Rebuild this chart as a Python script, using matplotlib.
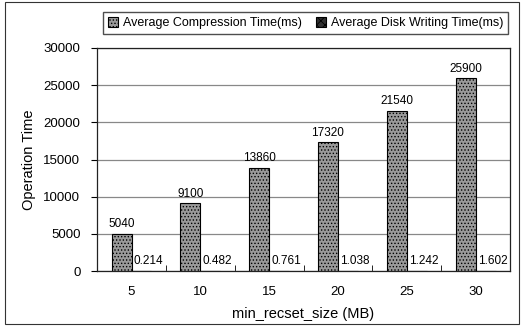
import matplotlib.pyplot as plt
import numpy as np
from matplotlib.patches import Rectangle

plt.rcParams['font.family'] = ['Liberation Sans', 'DejaVu Sans']
plt.rcParams['hatch.linewidth'] = 0.6

sizes = ['5', '10', '15', '20', '25', '30']
compression_ms = [5040, 9100, 13860, 17320, 21540, 25900]
disk_ms = [0.214, 0.482, 0.761, 1.038, 1.242, 1.602]

fig = plt.figure(figsize=(5.22, 3.31), dpi=100)
ax = fig.add_axes([0.186, 0.181, 0.791, 0.674])

x = np.arange(len(sizes))
w = 0.29
b1 = ax.bar(x - w / 2, compression_ms, w, color='#9a9a9a', edgecolor='black',
            hatch='.....', linewidth=0.8, label='Average Compression Time(ms)', zorder=3)
b2 = ax.bar(x + w / 2, disk_ms, w, color='#303030', edgecolor='black',
            hatch='xxxx', linewidth=0.8, label='Average Disk Writing Time(ms)', zorder=3)

for rect, v in zip(b1, compression_ms):
    ax.text(rect.get_x() + rect.get_width() / 2, v + 500, str(v),
            ha='center', va='bottom', fontsize=8.5)
for rect, v in zip(b2, disk_ms):
    ax.text(rect.get_x() + rect.get_width() / 2 + 0.1, v + 500, f'{v:.3f}',
            ha='center', va='bottom', fontsize=8.5)

ax.set_xlim(-0.5, len(sizes) - 0.5)
ax.set_ylim(0, 30000)
ax.set_yticks(np.arange(0, 30001, 5000))
ax.set_xticks(x)
ax.set_xticklabels(sizes)
ax.set_xticks(np.arange(-0.5, len(sizes), 1), minor=True)
ax.tick_params(axis='x', which='major', length=0, pad=11, labelsize=9.5)
ax.tick_params(axis='x', which='minor', length=4, direction='in')
ax.tick_params(axis='y', length=4, labelsize=9.5, pad=8)
ax.yaxis.grid(True, color='#888888', linewidth=0.9, zorder=0)
ax.set_axisbelow(True)
for s in ax.spines.values():
    s.set_linewidth(0.9)
    s.set_color('#222222')

ax.set_xlabel('min_recset_size (MB)', fontsize=10.5, labelpad=6)
ax.set_ylabel('Operation Time', fontsize=10.5, labelpad=5)

fig.legend(handles=[b1, b2], loc='upper left', bbox_to_anchor=(0.186, 0.905, 0.80, 0.077),
           mode='expand', ncol=2, fontsize=9, frameon=True, fancybox=False,
           edgecolor='#222222', handlelength=0.8, handleheight=0.8,
           handletextpad=0.4, borderpad=0.4, columnspacing=1.5)

fig.patches.append(Rectangle((0.01, 0.02), 0.985, 0.975, transform=fig.transFigure,
                             fill=False, edgecolor='#333333', linewidth=0.8))

fig.savefig('out.png', dpi=100)
